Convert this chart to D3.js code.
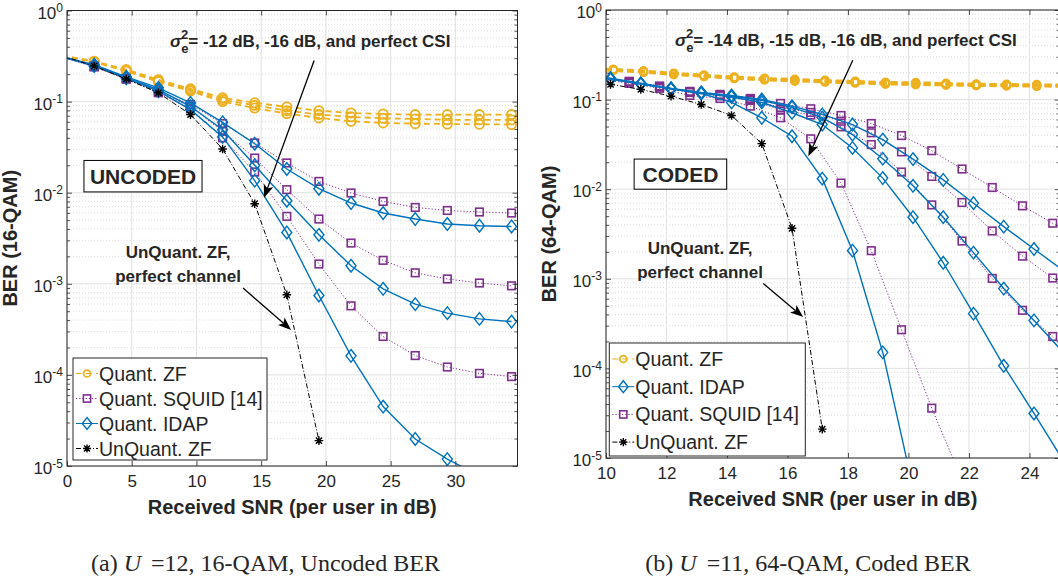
<!DOCTYPE html>
<html>
<head>
<meta charset="utf-8">
<title>BER vs SNR</title>
<script src="https://d3js.org/d3.v7.min.js"></script>
<style>
  body { margin: 0; background: #fff; }
  svg text { font-family: "Liberation Sans", Arial, Helvetica, sans-serif; fill: #262626; }
</style>
</head>
<body>
<svg id="fig" width="1058" height="584"></svg>
<script>
// ---------------- panel (a): uncoded, 16-QAM, U = 12 ----------------
const snrA = [-0.38, 2.1, 4.58, 7.06, 9.54, 12.02, 14.5, 16.98, 19.46, 21.94, 24.42, 26.9, 29.38, 31.86, 34.34];
// sigma_e^2 = -12 dB, -16 dB, perfect CSI
const zfA = [
  [0.32, 0.277, 0.225, 0.174, 0.138, 0.110, 0.097, 0.0875, 0.0796, 0.0750, 0.0733, 0.0720, 0.0720, 0.0720, 0.0720],
  [0.32, 0.275, 0.220, 0.170, 0.135, 0.105, 0.091, 0.0796, 0.0720, 0.0680, 0.0655, 0.0645, 0.0630, 0.0630, 0.0630],
  [0.32, 0.272, 0.215, 0.165, 0.130, 0.100, 0.085, 0.0738, 0.0662, 0.0608, 0.0583, 0.0573, 0.0567, 0.0565, 0.0560]
];
const squidA = [
  [0.31, 0.245, 0.180, 0.130, 0.093, 0.0573, 0.0352, 0.0212, 0.0133, 0.00993, 0.00802, 0.00689, 0.00638, 0.00614, 0.00598],
  [0.31, 0.243, 0.178, 0.128, 0.088, 0.0472, 0.0240, 0.0108, 0.00514, 0.00280, 0.00181, 0.00132, 0.00113, 0.00102, 0.00095],
  [0.31, 0.240, 0.176, 0.125, 0.083, 0.0400, 0.0169, 0.0055, 0.00165, 0.000573, 0.000264, 0.000163, 0.000122, 0.000104, 0.0000958]
];
const idapA = [
  [0.31, 0.255, 0.187, 0.1415, 0.0968, 0.0592, 0.0345, 0.0182, 0.01106, 0.0077, 0.00598, 0.00514, 0.00453, 0.00434, 0.00426],
  [0.31, 0.250, 0.183, 0.135, 0.0888, 0.0492, 0.0200, 0.00816, 0.00345, 0.00158, 0.00088, 0.000598, 0.000476, 0.000412, 0.000385],
  [0.31, 0.245, 0.180, 0.130, 0.0817, 0.0410, 0.01355, 0.00366, 0.000744, 0.000162, 0.0000449, 0.0000198, 0.0000119, 0.0000078, 0.000005]
];
const unqA = [0.32, 0.245, 0.177, 0.125, 0.072, 0.0302, 0.00757, 0.000757, 0.000019];

// ---------------- panel (b): coded, 64-QAM, U = 11 ----------------
const snrB_zf = [9.24, 10.24, 11.24, 12.24, 13.24, 14.24, 15.24, 16.24, 17.24, 18.24, 19.24, 20.24, 21.24, 22.24, 23.24, 24.24, 25.24];
const snrB_id = [9.15, 10.15, 11.15, 12.15, 13.15, 14.15, 15.15, 16.15, 17.15, 18.15, 19.15, 20.15, 21.15, 22.15, 23.15, 24.15, 25.15];
const snrB_sq = [9.77, 10.77, 11.77, 12.77, 13.77, 14.77, 15.77, 16.77, 17.77, 18.77, 19.77, 20.77, 21.77, 22.77, 23.77, 24.77, 25.77];
// sigma_e^2 = -14 dB, -15 dB, -16 dB, perfect CSI
const zfB = [
  [0.225, 0.218, 0.209, 0.197, 0.188, 0.179, 0.173, 0.168, 0.164, 0.160, 0.156, 0.155, 0.152, 0.149, 0.148, 0.147, 0.146],
  [0.222, 0.215, 0.206, 0.194, 0.185, 0.176, 0.170, 0.165, 0.161, 0.157, 0.153, 0.151, 0.149, 0.147, 0.146, 0.145, 0.144],
  [0.220, 0.213, 0.204, 0.192, 0.183, 0.174, 0.168, 0.163, 0.159, 0.155, 0.151, 0.149, 0.147, 0.145, 0.144, 0.143, 0.142],
  [0.218, 0.211, 0.202, 0.190, 0.181, 0.172, 0.166, 0.161, 0.157, 0.153, 0.149, 0.147, 0.145, 0.143, 0.142, 0.141, 0.140]
];
const idapB = [
  [0.19, 0.173, 0.152, 0.1336, 0.1205, 0.1115, 0.1005, 0.0845, 0.0683, 0.0527, 0.0358, 0.0217, 0.0127, 0.00698, 0.00382, 0.00215, 0.00122],
  [0.19, 0.171, 0.150, 0.132, 0.119, 0.109, 0.098, 0.0818, 0.063, 0.0407, 0.0219, 0.0109, 0.00487, 0.00196, 0.000778, 0.000343, 0.000147],
  [0.19, 0.170, 0.149, 0.131, 0.118, 0.107, 0.093, 0.0713, 0.0527, 0.0289, 0.0133, 0.00487, 0.00151, 0.000408, 0.000107, 0.0000314, 0.000009],
  [0.19, 0.168, 0.150, 0.133, 0.117, 0.093, 0.0627, 0.039, 0.0131, 0.00206, 0.000151, 0.0000047]
];
const squidB = [
  [0.175, 0.160, 0.1417, 0.1236, 0.1144, 0.103, 0.0906, 0.079, 0.0665, 0.0541, 0.0397, 0.0269, 0.0168, 0.01045, 0.00652, 0.00417, 0.0026],
  [0.175, 0.158, 0.140, 0.122, 0.112, 0.100, 0.0818, 0.0719, 0.0574, 0.0426, 0.0261, 0.01388, 0.0071, 0.00342, 0.00179, 0.00102, 0.00056],
  [0.175, 0.157, 0.138, 0.120, 0.110, 0.098, 0.0776, 0.0673, 0.0497, 0.0315, 0.01555, 0.00668, 0.00264, 0.00101, 0.000445, 0.000227, 0.00011],
  [0.170, 0.152, 0.1336, 0.1115, 0.103, 0.0845, 0.0627, 0.0365, 0.0117, 0.00206, 0.00027, 0.000036, 0.0000057]
];
const unqB = [0.16, 0.148, 0.130, 0.109, 0.0883, 0.0665, 0.0323, 0.00366, 0.000021];

const yTicks = [1e-5, 1e-4, 1e-3, 1e-2, 1e-1, 1];

const styles = {
  zf:    { color: "#EDB120", dash: "6,4", width: 2, marker: "circle", label: "Quant. ZF" },
  squid: { color: "#7E2F8E", dash: "1.2,2", width: 1, marker: "square", label: "Quant. SQUID [14]" },
  idap:  { color: "#0072BD", dash: null, width: 1.4, marker: "diamond", label: "Quant. IDAP" },
  unq:   { color: "#000000", dash: "5,2,1,2", width: 1, marker: "star", label: "UnQuant. ZF" }
};

const svg = d3.select("#fig");

function drawMarker(g, kind, cx, cy, color, scale) {
  const s = scale || 1;
  if (kind === "circle") {
    g.append("circle").attr("cx", cx).attr("cy", cy).attr("r", 4.6 * s)
      .attr("fill", "none").attr("stroke", color).attr("stroke-width", 1.8);
  } else if (kind === "square") {
    const h = 3.8 * s;
    g.append("rect").attr("x", cx - h).attr("y", cy - h).attr("width", 2 * h).attr("height", 2 * h)
      .attr("fill", "none").attr("stroke", color).attr("stroke-width", 1.6);
  } else if (kind === "diamond") {
    const w = 5 * s, h = 6.3 * s;
    g.append("path").attr("d", `M${cx},${cy - h}L${cx + w},${cy}L${cx},${cy + h}L${cx - w},${cy}Z`)
      .attr("fill", "none").attr("stroke", color).attr("stroke-width", 1.4);
  } else {
    const r = 4.3 * s, q = r * 0.72;
    g.append("path").attr("d", `M${cx - r},${cy}L${cx + r},${cy}M${cx},${cy - r}L${cx},${cy + r}` +
        `M${cx - q},${cy - q}L${cx + q},${cy + q}M${cx - q},${cy + q}L${cx + q},${cy - q}`)
      .attr("stroke", color).attr("stroke-width", 1.4);
  }
}

function arrow(g, x1, y1, x2, y2) {
  const a = Math.atan2(y2 - y1, x2 - x1), L = 13, W = 5;
  const bx = x2 - L * Math.cos(a), by = y2 - L * Math.sin(a);
  const nx = x2 - (L - 3) * Math.cos(a), ny = y2 - (L - 3) * Math.sin(a);
  g.append("line").attr("x1", x1).attr("y1", y1).attr("x2", nx).attr("y2", ny)
    .attr("stroke", "#000").attr("stroke-width", 1.3);
  const px = -Math.sin(a) * W, py = Math.cos(a) * W;
  g.append("path").attr("d", `M${x2},${y2}L${bx + px},${by + py}L${nx},${ny}L${bx - px},${by - py}Z`)
    .attr("fill", "#000");
}

function drawPanel(p) {
  const g = svg.append("g");
  const x = d3.scaleLinear().domain(p.xDomain).range([p.left, p.right]);
  const y = d3.scaleLog().domain([1e-5, 1]).range([p.bottom, p.top]);
  const minor = [];
  yTicks.slice(0, -1).forEach(t => { for (let m = 2; m <= 9; m++) minor.push(t * m); });

  g.append("clipPath").attr("id", "clip-" + p.id).append("rect")
    .attr("x", p.left).attr("y", p.top).attr("width", p.right - p.left).attr("height", p.bottom - p.top);

  // grid
  g.append("g").selectAll("line").data(minor).join("line")
    .attr("x1", p.left).attr("x2", p.right).attr("y1", d => y(d)).attr("y2", d => y(d))
    .attr("stroke", "#d4d4d4").attr("stroke-width", 0.8).attr("stroke-dasharray", "1,2");
  g.append("g").selectAll("line").data(yTicks).join("line")
    .attr("x1", p.left).attr("x2", p.right).attr("y1", d => y(d)).attr("y2", d => y(d))
    .attr("stroke", "#e1e1e1").attr("stroke-width", 1);
  g.append("g").selectAll("line").data(p.xTicks).join("line")
    .attr("x1", d => x(d)).attr("x2", d => x(d)).attr("y1", p.top).attr("y2", p.bottom)
    .attr("stroke", "#e1e1e1").attr("stroke-width", 1);

  // curves
  const plot = g.append("g").attr("clip-path", `url(#clip-${p.id})`);
  const line = d3.line().x(d => x(d[0])).y(d => y(d[1]));
  p.series.forEach(s => {
    const st = styles[s.kind];
    const pts = s.y.map((v, i) => [s.x[i], v]);
    const w = s.kind === "zf" ? p.zfWidth : st.width;
    plot.append("path").datum(pts).attr("d", line)
      .attr("fill", "none").attr("stroke", st.color).attr("stroke-width", w)
      .attr("stroke-dasharray", s.kind === "zf" ? p.zfDash : st.dash);
    pts.filter(d => d[0] >= p.xDomain[0] && d[0] <= p.xDomain[1] && d[1] >= 1e-5 && d[1] <= 1)
      .forEach(d => drawMarker(plot, st.marker, x(d[0]), y(d[1]), st.color, s.kind === "zf" ? p.zfR : 1));
  });

  // axes box and ticks (MATLAB style, ticks inside)
  const axc = "#262626";
  const gx = g.append("g").attr("transform", `translate(0,${p.bottom})`)
    .call(d3.axisBottom(x).tickValues(p.xTicks).tickSize(-5).tickPadding(9).tickFormat(d3.format("d")));
  g.append("g").attr("transform", `translate(0,${p.top})`)
    .call(d3.axisTop(x).tickValues(p.xTicks).tickSize(-5).tickFormat(""));
  const gy = g.append("g").attr("transform", `translate(${p.left},0)`)
    .call(d3.axisLeft(y).tickValues(yTicks).tickSize(-5).tickPadding(4));
  g.append("g").attr("transform", `translate(${p.right},0)`)
    .call(d3.axisRight(y).tickValues(yTicks).tickSize(-5).tickFormat(""));
  g.append("g").attr("transform", `translate(${p.left},0)`)
    .call(d3.axisLeft(y).tickValues(minor).tickSize(-3).tickFormat(""));
  g.append("g").attr("transform", `translate(${p.right},0)`)
    .call(d3.axisRight(y).tickValues(minor).tickSize(-3).tickFormat(""));
  g.selectAll(".domain").remove();
  g.selectAll(".tick line").attr("stroke", axc).attr("stroke-width", 0.8);
  g.append("rect").attr("x", p.left).attr("y", p.top).attr("width", p.right - p.left)
    .attr("height", p.bottom - p.top).attr("fill", "none").attr("stroke", axc).attr("stroke-width", 1);

  gx.selectAll(".tick text").attr("font-size", 17).attr("fill", axc);
  gy.selectAll(".tick text").each(function (d) {
    const t = d3.select(this).text(null).attr("font-size", 17).attr("fill", axc).attr("dy", "0.45em");
    t.append("tspan").text("10");
    t.append("tspan").attr("dy", "-0.55em").attr("font-size", 12).text(Math.round(Math.log10(d)));
  });

  // axis labels
  g.append("text").attr("x", (p.left + p.right) / 2).attr("y", p.bottom + 48)
    .attr("text-anchor", "middle").attr("font-weight", "bold").attr("font-size", 20)
    .text("Received SNR (per user in dB)");
  g.append("text").attr("transform", `translate(${p.left - 50},${(p.top + p.bottom) / 2}) rotate(-90)`)
    .attr("text-anchor", "middle").attr("font-weight", "bold").attr("font-size", 20)
    .text(p.yLabel);

  // annotations (positions given in data coordinates)
  const an = p.notes;
  const sg = g.append("text").attr("x", x(an.sigma[0])).attr("y", y(an.sigma[1]))
    .attr("font-weight", "bold").attr("font-size", 17).attr("fill", "#000");
  sg.append("tspan").attr("font-style", "italic").text("σ");
  sg.append("tspan").attr("font-size", 13).attr("dy", 6).text("e");
  sg.append("tspan").attr("font-size", 13).attr("dx", -7.5).attr("dy", -14).text("2");
  sg.append("tspan").attr("dy", 8).text(an.sigmaText);
  arrow(g, x(an.arrow1[0]), y(an.arrow1[1]), x(an.arrow1[2]), y(an.arrow1[3]));

  const bx0 = x(an.box[0]), bx1 = x(an.box[1]), by0 = y(an.box[2]), by1 = y(an.box[3]);
  g.append("rect").attr("x", bx0).attr("y", by0).attr("width", bx1 - bx0).attr("height", by1 - by0)
    .attr("fill", "#fff").attr("stroke", "#000").attr("stroke-width", 1);
  g.append("text").attr("x", (bx0 + bx1) / 2).attr("y", (by0 + by1) / 2 + 7.5)
    .attr("text-anchor", "middle").attr("font-weight", "bold").attr("font-size", 21).attr("fill", "#000")
    .text(an.boxText);

  g.append("text").attr("x", x(an.unq[0])).attr("y", y(an.unq[1])).attr("text-anchor", "middle")
    .attr("font-weight", "bold").attr("font-size", 17).attr("fill", "#000").text("UnQuant. ZF,");
  g.append("text").attr("x", x(an.unq[0])).attr("y", y(an.unq[2])).attr("text-anchor", "middle")
    .attr("font-weight", "bold").attr("font-size", 17).attr("fill", "#000").text("perfect channel");
  arrow(g, x(an.arrow2[0]), y(an.arrow2[1]), x(an.arrow2[2]), y(an.arrow2[3]));

  // legend
  const lg = p.legend;
  const lx = p.left + lg.dx, ly = p.bottom - lg.dy - lg.h;
  g.append("rect").attr("x", lx).attr("y", ly).attr("width", lg.w).attr("height", lg.h)
    .attr("fill", "#fff").attr("stroke", axc).attr("stroke-width", 1);
  lg.order.forEach((k, i) => {
    const st = styles[k];
    const cy = ly + lg.first + i * lg.step;
    g.append("line").attr("x1", lx + 3).attr("x2", lx + 25).attr("y1", cy).attr("y2", cy)
      .attr("stroke", st.color).attr("stroke-width", 1).attr("stroke-dasharray", st.dash);
    drawMarker(g, st.marker, lx + 14, cy, st.color, k === "zf" ? 0.75 : 0.95);
    g.append("text").attr("x", lx + 26).attr("y", cy + 7).attr("font-size", 19.5).attr("fill", "#000")
      .text(st.label);
  });
}

function seriesList(zfX, zf, sqX, sq, idX, id, uqX, uq) {
  const out = [];
  zf.forEach(v => out.push({ kind: "zf", x: zfX, y: v }));
  sq.forEach(v => out.push({ kind: "squid", x: sqX, y: v }));
  id.forEach(v => out.push({ kind: "idap", x: idX, y: v }));
  out.push({ kind: "unq", x: uqX, y: uq });
  return out;
}

drawPanel({
  id: "a", left: 67, right: 517.5, top: 10.5, bottom: 466, xDomain: [0, 34.8],
  xTicks: [0, 5, 10, 15, 20, 25, 30], yLabel: "BER (16-QAM)",
  zfWidth: 1.8, zfDash: "6,4", zfR: 1,
  series: seriesList(snrA, zfA, snrA, squidA, snrA, idapA, snrA, unqA),
  notes: {
    sigma: [7.96, 0.40], sigmaText: "= -12 dB, -16 dB, and perfect CSI",
    arrow1: [19.09, 0.282, 15.22, 0.0088],
    box: [1.31, 10.43, 0.0226, 0.0102], boxText: "UNCODED",
    unq: [8.58, 0.00193, 0.00105],
    arrow2: [13.6, 0.000897, 17.31, 0.000312]
  },
  legend: { dx: 6, dy: 6, w: 194, h: 102, first: 15.5, step: 25, order: ["zf", "squid", "idap", "unq"] }
});

drawPanel({
  id: "b", left: 606, right: 1059.7, top: 10, bottom: 458, xDomain: [10, 25],
  xTicks: [10, 12, 14, 16, 18, 20, 22, 24], yLabel: "BER (64-QAM)",
  zfWidth: 2.6, zfDash: "7,4", zfR: 0.85,
  series: seriesList(snrB_zf, zfB, snrB_sq, squidB, snrB_id, idapB, snrB_id, unqB),
  notes: {
    sigma: [12.28, 0.395], sigmaText: "= -14 dB, -15 dB, -16 dB, and perfect CSI",
    arrow1: [18.16, 0.275, 16.69, 0.0233],
    box: [10.93, 13.99, 0.0217, 0.0100], boxText: "CODED",
    unq: [13.11, 0.00189, 0.00102],
    arrow2: [15.2, 0.000885, 16.52, 0.000374]
  },
  legend: { dx: 3.3, dy: 2, w: 196, h: 113, first: 16, step: 27.7, order: ["zf", "idap", "squid", "unq"] }
});

// sub-figure captions
const captions = [
  { cx: 265.5, pre: "(a) ", post: "=12, 16-QAM, Uncoded BER" },
  { cx: 808, pre: "(b) ", post: "=11, 64-QAM, Coded BER" }
];
captions.forEach(c => {
  const t = svg.append("text").attr("x", c.cx).attr("y", 571).attr("text-anchor", "middle")
    .attr("font-size", 24).style("font-family", "'Liberation Serif', 'Times New Roman', serif").attr("fill", "#000");
  t.append("tspan").text(c.pre);
  t.append("tspan").attr("font-style", "italic").text("U");
  t.append("tspan").attr("dx", 10).text(c.post);
});
</script>
</body>
</html>
